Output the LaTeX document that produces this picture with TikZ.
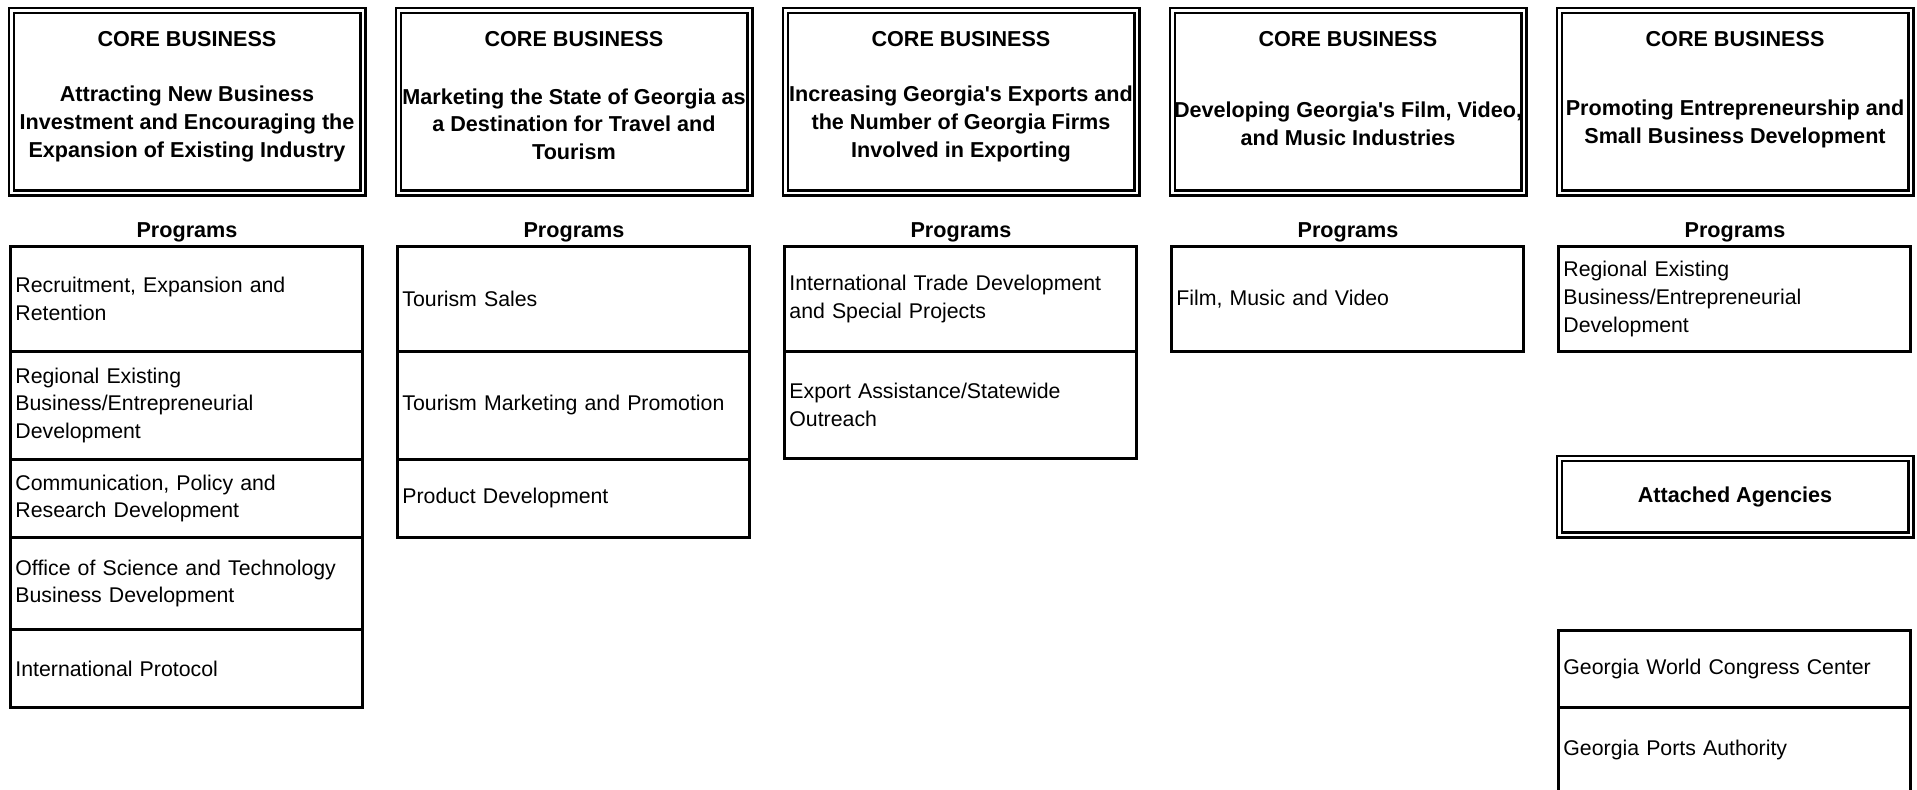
\documentclass[tikz,border=0pt]{standalone}
\usepackage{fontspec}
\setmainfont{Liberation Sans}
\newcommand\gafont{\fontsize{10.65pt}{13.85pt}\selectfont}
\newcommand\gabold{\fontsize{10.8pt}{13.85pt}\selectfont\bfseries}
\begin{document}
\begin{tikzpicture}[x=0.5pt, y=-0.5pt, font=\gafont,
  core/.style={draw, double, line width=1.25pt, double distance=1.25pt, minimum width=175.75pt, minimum height=91.25pt},
  attached/.style={core, minimum height=38.25pt, font=\gabold},
  head/.style={font=\gabold, anchor=base},
  aim/.style={font=\gabold, align=center},
  prog/.style={draw, line width=1.4pt, anchor=north west, text width=171pt, inner xsep=2.5pt, inner ysep=0pt, align=left}]
\clip (0,0) rectangle (1917,790);
% core businesses
\node[core] (core1) at (187,102){};
\node[head] (cb1) at (187,47){CORE BUSINESS};
\node[aim] (aim1) at (187,124){Attracting New Business\\Investment and Encouraging the\\Expansion of Existing Industry};
\node[core] (core2) at (574,102){};
\node[head] (cb2) at (574,47){CORE BUSINESS};
\node[aim] (aim2) at (574,124){Marketing the State of Georgia as\\a Destination for Travel and\\Tourism};
\node[core] (core3) at (961,102){};
\node[head] (cb3) at (961,47){CORE BUSINESS};
\node[aim] (aim3) at (961,124){Increasing Georgia\textquotesingle s Exports and\\the Number of Georgia Firms\\Involved in Exporting};
\node[core] (core4) at (1348,102){};
\node[head] (cb4) at (1348,47){CORE BUSINESS};
\node[aim] (aim4) at (1348,124){Developing Georgia\textquotesingle s Film, Video,\\and Music Industries};
\node[core] (core5) at (1735,102){};
\node[head] (cb5) at (1735,47){CORE BUSINESS};
\node[aim] (aim5) at (1735,124){Promoting Entrepreneurship and\\Small Business Development};
% programs
\node[head] (pg1) at (187,238){Programs};
\node[prog, minimum height=52.5pt] (p11) at (9,245){Recruitment, Expansion and\\Retention};
\node[prog, minimum height=54pt] (p12) at (9,350){Regional Existing\\Business/Entrepreneurial\\Development};
\node[prog, minimum height=39pt] (p13) at (9,458){Communication, Policy and\\Research Development};
\node[prog, minimum height=46pt] (p14) at (9,536){Office of Science and Technology\\Business Development};
\node[prog, minimum height=39pt] (p15) at (9,628){International Protocol};
\node[head] (pg2) at (574,238){Programs};
\node[prog, minimum height=52.5pt] (p21) at (396,245){Tourism Sales};
\node[prog, minimum height=54pt] (p22) at (396,350){Tourism Marketing and Promotion};
\node[prog, minimum height=39pt] (p23) at (396,458){Product Development};
\node[head] (pg3) at (961,238){Programs};
\node[prog, minimum height=52.5pt] (p31) at (783,245){International Trade Development\\and Special Projects};
\node[prog, minimum height=53.5pt] (p32) at (783,350){Export Assistance/Statewide\\Outreach};
\node[head] (pg4) at (1348,238){Programs};
\node[prog, minimum height=52.5pt] (p41) at (1170,245){Film, Music and Video};
\node[head] (pg5) at (1735,238){Programs};
\node[prog, minimum height=52.5pt] (p51) at (1557,245){Regional Existing\\Business/Entrepreneurial\\Development};
% attached agencies
\node[attached] (att) at (1735,497){Attached Agencies};
\node[prog, minimum height=38.5pt] (ag1) at (1557,629){Georgia World Congress Center};
\node[prog, minimum height=43pt] (ag2) at (1557,706){Georgia Ports Authority};
\end{tikzpicture}
\end{document}
